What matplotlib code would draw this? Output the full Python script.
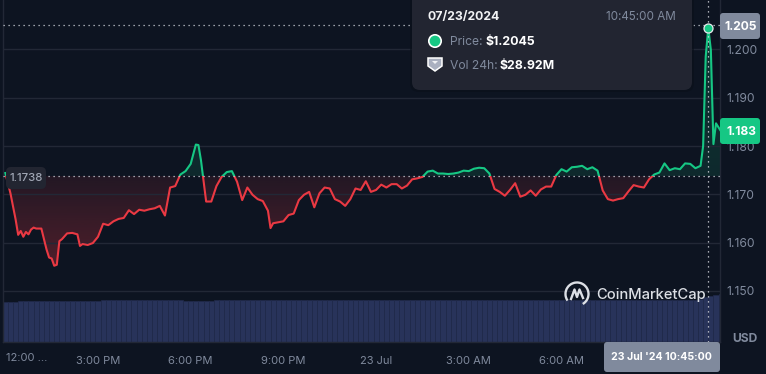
import numpy as np
import pandas as pd
import matplotlib
matplotlib.use("Agg")
import matplotlib.pyplot as plt
import matplotlib.dates as mdates
from matplotlib.patches import FancyBboxPatch, Rectangle, PathPatch, Arc, Circle, Polygon
from matplotlib.path import Path
from matplotlib.colors import LinearSegmentedColormap

plt.rcParams['font.family'] = ['Inter', 'DejaVu Sans']

base_times = pd.date_range("2024-07-22 12:00", periods=140, freq="10min")
extra_times = pd.to_datetime([
    "2024-07-22 12:25", "2024-07-22 12:35", "2024-07-22 12:45", "2024-07-22 12:55",
    "2024-07-22 13:25", "2024-07-22 13:35", "2024-07-22 13:45", "2024-07-22 14:25",
    "2024-07-22 18:15", "2024-07-22 20:35",
    "2024-07-23 10:35", "2024-07-23 10:45", "2024-07-23 10:55"])
times = base_times.union(extra_times)

prices = [
    1.1744, 1.1702, 1.1648, 1.1616, 1.1624, 1.1612, 1.1622, 1.1617, 1.1627, 1.1631,
    1.1629, 1.1629, 1.1586, 1.1569, 1.1567, 1.1552,
    1.1554, 1.1603, 1.1607, 1.1619, 1.1620, 1.1617, 1.1593, 1.1597, 1.1595, 1.1599, 1.1612, 1.1639,
    1.1636, 1.1644, 1.1649, 1.1651, 1.1667, 1.1659, 1.1668, 1.1666, 1.1669, 1.1671,
    1.1676, 1.1656, 1.1714, 1.1717, 1.1741, 1.1748, 1.1763, 1.1803, 1.1802, 1.1770, 1.1685,
    1.1685, 1.1717, 1.1736, 1.1746, 1.1748, 1.1726, 1.1688, 1.1714, 1.1699, 1.1690,
    1.1686, 1.1666, 1.1630, 1.1640, 1.1642, 1.1644, 1.1657, 1.1660, 1.1688, 1.1699, 1.1705,
    1.1673, 1.1702, 1.1714, 1.1712, 1.1690, 1.1685, 1.1676, 1.1690, 1.1712, 1.1709,
    1.1727, 1.1705, 1.1709, 1.1720, 1.1714, 1.1721, 1.1721, 1.1712, 1.1718, 1.1731,
    1.1733, 1.1736, 1.1747, 1.1749, 1.1743, 1.1743, 1.1742, 1.1743, 1.1745, 1.1749,
    1.1748, 1.1753, 1.1755, 1.1754, 1.1743, 1.1711, 1.1705, 1.1697, 1.1709, 1.1723,
    1.1695, 1.1699, 1.1708, 1.1697, 1.1710, 1.1716, 1.1716, 1.1740, 1.1752, 1.1747,
    1.1756, 1.1757, 1.1759, 1.1752, 1.1756, 1.1749, 1.1708, 1.1690, 1.1687, 1.1690,
    1.1692, 1.1706, 1.1719, 1.1716, 1.1714, 1.1731, 1.1741, 1.1745, 1.1764, 1.1750,
    1.1754, 1.1752, 1.1764, 1.1763, 1.1754, 1.1759, 1.1800, 1.1985, 1.2045, 1.1999,
    1.1804, 1.1847, 1.1830,
]

volumes = [
    25.1, 25.1, 25.1, 25.8, 25.8, 25.8, 25.8, 25.8, 25.8, 25.8,
    25.8, 25.8, 25.8, 25.8, 25.8, 25.8, 25.8, 25.8, 25.8, 26.4,
    26.4, 26.4, 26.4, 26.4, 26.4, 26.4, 26.4, 26.4, 26.4, 26.4,
    26.4, 26.4, 26.4, 26.4, 26.4, 25.8, 25.8, 25.8, 25.8, 25.8,
    25.8, 26.4, 26.4, 26.4, 26.4, 26.4, 26.4, 26.4, 26.4, 26.4,
    26.4, 26.4, 26.4, 26.4, 26.4, 26.4, 26.4, 26.4, 26.4, 26.4,
    26.4, 26.4, 26.4, 26.4, 26.4, 26.4, 26.4, 26.4, 26.4, 26.4,
    26.4, 26.4, 26.4, 26.4, 26.4, 26.4, 26.4, 26.4, 26.4, 26.4,
    26.4, 26.4, 26.4, 26.4, 26.4, 26.4, 26.4, 26.4, 26.4, 26.4,
    26.4, 26.4, 26.4, 26.4, 26.4, 26.4, 26.4, 26.4, 26.4, 26.4,
    26.4, 26.4, 26.4, 26.4, 26.4, 26.4, 26.4, 26.4, 26.4, 26.4,
    26.4, 26.4, 26.4, 26.4, 26.4, 26.4, 26.4, 26.4, 26.4, 26.4,
    26.4, 26.4, 26.4, 26.4, 26.4, 26.4, 26.4, 26.4, 26.4, 26.4,
    26.4, 26.4, 26.4, 26.4, 26.6, 27.2, 28.0, 28.9, 29.4, 29.9,
]

y_ticks = [1.150, 1.160, 1.170, 1.180, 1.190, 1.200]
x_tick_times = ["2024-07-22 15:00", "2024-07-22 18:00", "2024-07-22 21:00", "2024-07-23 00:00",
                "2024-07-23 03:00", "2024-07-23 06:00", "2024-07-23 12:00"]
x_tick_labels = ["3:00 PM", "6:00 PM", "9:00 PM", "23 Jul", "3:00 AM", "6:00 AM", "12:00 PM"]
baseline = 1.1738
hover_time = "2024-07-23 10:45"
hover_price = 1.2045

BG = '#0d1421'
GRID = '#222836'
RED = '#ea3943'
GREEN = '#16c784'
MUTED = '#808a9d'

W, H = 766, 374
fig = plt.figure(figsize=(W/100, H/100), dpi=100, facecolor=BG)
rect = [3/W, (H-342)/H, 717/W, 342/H]

ax_vol = fig.add_axes(rect, facecolor=BG)
ax = ax_vol.twinx()
ax.set_zorder(2)
ax_vol.set_zorder(1)
ax.patch.set_visible(False)

t = mdates.date2num(times)
p = np.array(prices)
xmin = mdates.date2num(pd.Timestamp("2024-07-22 12:00")) - 2.3/30.9/24
xmax = mdates.date2num(pd.Timestamp("2024-07-22 12:00")) + (720-5.3)/30.9/24
ymax, ymin = 1.21025, 1.1394

# volume
ax_vol.bar(mdates.date2num(base_times), volumes, width=10/1440, color='#28335a',
           edgecolor='#20294a', linewidth=0.5, align='center')
ax_vol.set_ylim(0, 215)
ax_vol.set_yticks([])

# area gradients clipped to the polygons
def gradient(where, color, a_top, a_bot, lo, hi):
    coll = ax.fill_between(t, p, baseline, where=where, interpolate=True, alpha=0)
    path = Path.make_compound_path(*coll.get_paths())
    cmap = LinearSegmentedColormap.from_list('g', [matplotlib.colors.to_rgba(color, a_top),
                                                   matplotlib.colors.to_rgba(color, a_bot)])
    im = ax.imshow(np.linspace(0, 1, 128)[:, None], extent=[xmin, xmax, lo, hi], origin='upper',
                   aspect='auto', cmap=cmap, zorder=1)
    im.set_clip_path(PathPatch(path, transform=ax.transData))

gradient(p <= baseline, RED, 0.10, 0.30, 1.155, baseline)
gradient(p >= baseline, GREEN, 0.20, 0.12, baseline, 1.205)

# lines split on the baseline
for color, lo, hi in [(RED, ymin, baseline), (GREEN, baseline, ymax)]:
    ln, = ax.plot(t, p, color=color, lw=1.5, zorder=3, solid_joinstyle='round')
    ln.set_clip_path(Rectangle((xmin, lo), xmax-xmin, hi-lo, transform=ax.transData))

ax.yaxis.tick_right()
ax.set_yticks(y_ticks)
ax.set_yticklabels([f"{v:.3f}" for v in y_ticks], color=MUTED, fontsize=8.7)
ax.grid(axis='y', color=GRID, lw=1, zorder=0)
ax.tick_params(axis='y', length=0, pad=4.5)
ax_vol.set_xticks(mdates.date2num(pd.to_datetime(x_tick_times)))
ax_vol.set_xticklabels(x_tick_labels, color=MUTED, fontsize=8.0)
ax_vol.tick_params(axis='x', length=0, pad=10)
ax_vol.set_xlim(xmin, xmax)
ax.set_ylim(ymin, ymax)
for a in (ax, ax_vol):
    for s in a.spines.values():
        s.set_visible(False)
for s in ('left', 'right', 'bottom'):
    ax.spines[s].set_visible(True)
    ax.spines[s].set_color(GRID)
    ax.spines[s].set_linewidth(1)

# baseline and crosshair
hx = mdates.date2num(pd.Timestamp(hover_time))
dots = (0, (1, 3))
ax.axhline(baseline, color='#c8ccd4', lw=0.9, ls=dots, zorder=4)
ax.axhline(1.2051, color='#c8ccd4', lw=0.9, ls=dots, zorder=4)
ax.axvline(hx, color='#d8dbe2', lw=0.9, ls=dots, zorder=4)
ax.plot([hx], [hover_price], 'o', ms=6.5, mfc=GREEN, mec='#e8eaee', mew=0.9, zorder=6)

# overlay in pixel space
ov = fig.add_axes([0, 0, 1, 1], facecolor='none', zorder=5)
ov.set_xlim(0, W); ov.set_ylim(H, 0); ov.axis('off')

def box(x0, y0, x1, y1, color, r=4, **kw):
    ov.add_patch(FancyBboxPatch((x0+r, y0+r), x1-x0-2*r, y1-y0-2*r,
                                boxstyle=f"round,pad={r},rounding_size={r}",
                                fc=color, ec='none', **kw))

# first, clipped, x label
ov.text(27, 358, "12:00 ...", color=MUTED, fontsize=8.0, ha='center', va='center')

# tooltip
box(410, -12, 694, 92, '#0a0f19', r=9, alpha=0.6)
box(412, -12, 692, 90, '#222531', r=8)
ov.text(428, 17, "07/23/2024", color='#f2f3f5', fontsize=8.8, fontweight='bold', va='center')
ov.text(676, 17, "10:45:00 AM", color=MUTED, fontsize=8.4, ha='right', va='center')
ov.add_patch(Circle((435, 41), 6.2, fc=GREEN, ec='#ffffff', lw=1.2))
ov.text(450, 41.5, "Price:", color=MUTED, fontsize=8.7, va='center')
ov.text(485, 41.5, "$1.2045", color='#ffffff', fontsize=8.9, fontweight='bold', va='center')
ov.add_patch(Polygon([[428, 58], [442, 58], [442, 66], [435, 71], [428, 66]], closed=True,
                     fc='#aab0c0', ec='#ffffff', lw=1.1))
ov.add_patch(Polygon([[432, 61], [438, 61], [435, 64]], closed=True, fc='#f0f1f4', ec='none'))
ov.text(450, 65.5, "Vol 24h:", color=MUTED, fontsize=8.7, va='center')
ov.text(499, 65.5, "$28.92M", color='#ffffff', fontsize=8.9, fontweight='bold', va='center')

# price badges
box(720, 13, 760, 39, '#808a9d', r=3)
ov.text(741, 26.5, "1.205", color='#ffffff', fontsize=8.7, fontweight='bold', ha='center', va='center')
box(720, 118, 760, 144, GREEN, r=3)
ov.text(741, 131.5, "1.183", color='#ffffff', fontsize=8.7, fontweight='bold', ha='center', va='center')
box(6, 167, 46, 189, '#222531', r=5)
ov.text(26, 178, "1.1738", color='#a1a7b5', fontsize=8.2, fontweight='medium', ha='center', va='center')
ov.text(745, 339, "USD", color=MUTED, fontsize=8.7, fontweight='bold', ha='center', va='center')

# date badge
box(604, 342, 720, 372, '#808a9d', r=3)
ov.text(661, 357.5, "23 Jul '24 10:45:00", color='#ffffff', fontsize=7.6, fontweight='bold', ha='center', va='center')

# watermark
WM = '#dcdfe5'
ov.add_patch(Arc((577, 294), 23, 23, theta1=-215+360-360, theta2=60, color=WM, lw=1.7))
ov.plot([571, 574.5, 577, 579.5, 583], [299, 289.5, 297, 289.5, 298], color=WM, lw=1.7,
        solid_joinstyle='round')
ov.text(596, 295, "CoinMarketCap", color=WM, fontsize=10.6, fontweight='medium', va='center')

fig.savefig("out.png", dpi=100, facecolor=BG)
